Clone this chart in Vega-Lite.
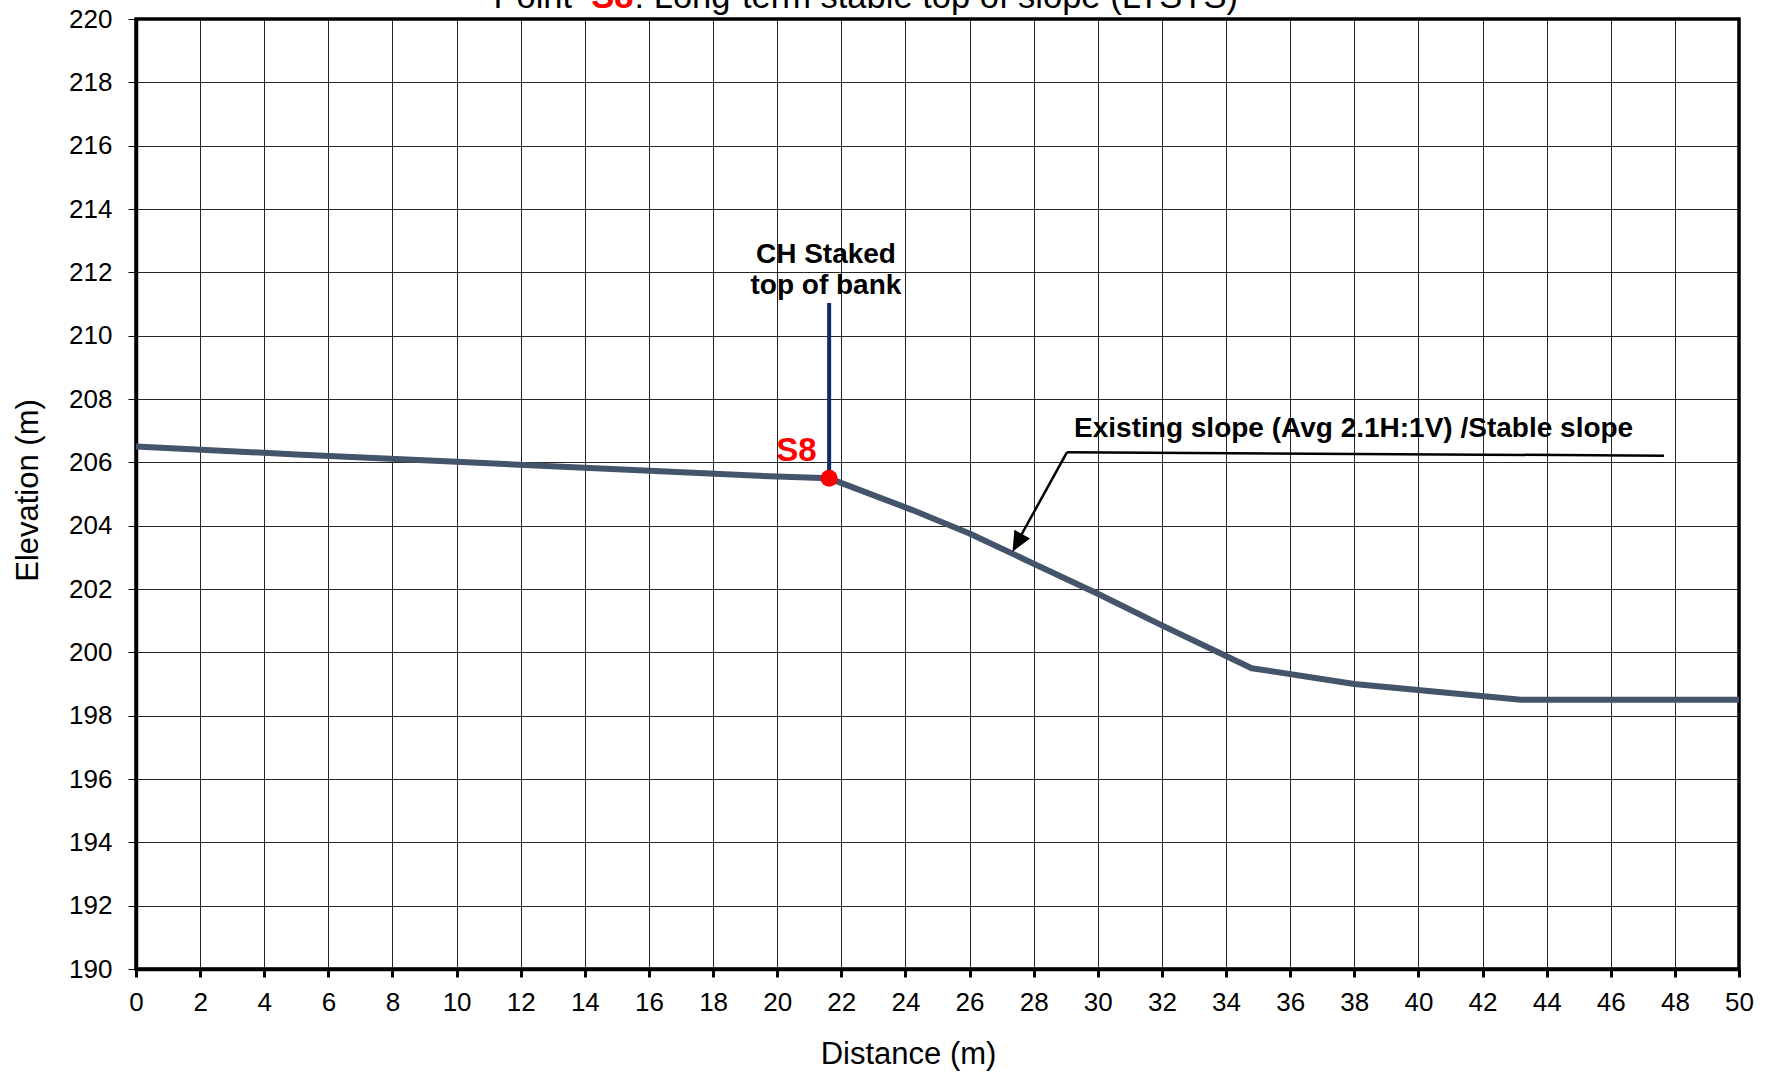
{
  "$schema": "https://vega.github.io/schema/vega-lite/v6.json",
  "width": 1603,
  "height": 950,
  "autosize": {"type": "none"},
  "padding": {"left": 136, "top": 19, "right": 34, "bottom": 108},
  "background": "white",
  "config": {
    "view": {"stroke": "black", "strokeWidth": 3.5},
    "font": "Liberation Sans",
    "axis": {
      "labelFont": "Liberation Sans",
      "titleFont": "Liberation Sans",
      "labelFontSize": 26,
      "titleFontSize": 31,
      "titleFontWeight": "normal",
      "labelColor": "black",
      "titleColor": "black",
      "domainColor": "black",
      "domainWidth": 3.5,
      "tickColor": "black",
      "tickSize": 8,
      "gridColor": "black",
      "gridWidth": 1,
      "gridOpacity": 0.85
    }
  },
  "datasets": {
    "profile": [
      {"distance": 0, "elevation": 206.5},
      {"distance": 5, "elevation": 206.25},
      {"distance": 10, "elevation": 206.02},
      {"distance": 15, "elevation": 205.78},
      {"distance": 20, "elevation": 205.55},
      {"distance": 21.6, "elevation": 205.5},
      {"distance": 24.2, "elevation": 204.5},
      {"distance": 26, "elevation": 203.75},
      {"distance": 28, "elevation": 202.8},
      {"distance": 30, "elevation": 201.85},
      {"distance": 32, "elevation": 200.85},
      {"distance": 34.8, "elevation": 199.5},
      {"distance": 38, "elevation": 199.0},
      {"distance": 43.2, "elevation": 198.5},
      {"distance": 50, "elevation": 198.5}
    ],
    "stake": [
      {"distance": 21.62, "elevation": 205.5},
      {"distance": 21.62, "elevation": 211.03}
    ],
    "point": [
      {"distance": 21.62, "elevation": 205.5}
    ],
    "leader": [
      {"distance": 29.04, "elevation": 206.32},
      {"distance": 47.66, "elevation": 206.21}
    ],
    "arrow": [
      {"distance": 29.04, "elevation": 206.32},
      {"distance": 27.5, "elevation": 203.5}
    ],
    "arrowhead": [
      {"distance": 27.34, "elevation": 203.18}
    ],
    "boldLabels": [
      {"distance": 21.52, "elevation": 212.28, "text": "CH Staked"},
      {"distance": 21.52, "elevation": 211.33, "text": "top of bank"},
      {"distance": 37.98, "elevation": 206.79, "text": "Existing slope (Avg 2.1H:1V) /Stable slope"}
    ],
    "s8": [
      {"distance": 20.6, "elevation": 206.04, "text": "S8"}
    ],
    "titleBlack": [
      {"distance": 11.15, "elevation": 220.35, "text": "Point"},
      {"distance": 15.55, "elevation": 220.35, "text": ": Long-term stable top of slope (LTSTS)"}
    ],
    "titleRed": [
      {"distance": 14.2, "elevation": 220.35, "text": "S8"}
    ]
  },
  "layer": [
    {
      "data": {"name": "profile"},
      "mark": {"type": "line", "color": "#44546a", "strokeWidth": 6, "strokeJoin": "round"},
      "encoding": {
        "x": {
          "field": "distance", "type": "quantitative",
          "scale": {"domain": [0, 50], "nice": false, "zero": false},
          "axis": {
            "values": [0,2,4,6,8,10,12,14,16,18,20,22,24,26,28,30,32,34,36,38,40,42,44,46,48,50],
            "title": "Distance (m)",
            "tickWidth": 3,
            "labelPadding": 12,
            "labelFlush": false,
            "titleX": 772,
            "titleY": 85,
            "titleBaseline": "middle",
            "titleAnchor": null,
            "titleAlign": "center"
          }
        },
        "y": {
          "field": "elevation", "type": "quantitative",
          "scale": {"domain": [190, 220], "nice": false, "zero": false},
          "axis": {
            "values": [190,192,194,196,198,200,202,204,206,208,210,212,214,216,218,220],
            "title": "Elevation (m)",
            "tickWidth": 1,
            "labelPadding": 16,
            "labelFlush": false,
            "titleX": -108,
            "titleY": 471,
            "titleAngle": -90,
            "titleBaseline": "middle",
            "titleAlign": "center",
            "titleAnchor": null
          }
        }
      }
    },
    {
      "data": {"name": "stake"},
      "mark": {"type": "line", "color": "#0d2a6b", "strokeWidth": 4},
      "encoding": {
        "x": {"field": "distance", "type": "quantitative"},
        "y": {"field": "elevation", "type": "quantitative"}
      }
    },
    {
      "data": {"name": "point"},
      "mark": {"type": "point", "shape": "circle", "filled": true, "color": "#ff0000", "size": 290, "opacity": 1},
      "encoding": {
        "x": {"field": "distance", "type": "quantitative"},
        "y": {"field": "elevation", "type": "quantitative"}
      }
    },
    {
      "data": {"name": "leader"},
      "mark": {"type": "line", "color": "black", "strokeWidth": 2.5},
      "encoding": {
        "x": {"field": "distance", "type": "quantitative"},
        "y": {"field": "elevation", "type": "quantitative"}
      }
    },
    {
      "data": {"name": "arrow"},
      "mark": {"type": "line", "color": "black", "strokeWidth": 2.5},
      "encoding": {
        "x": {"field": "distance", "type": "quantitative"},
        "y": {"field": "elevation", "type": "quantitative"}
      }
    },
    {
      "data": {"name": "arrowhead"},
      "mark": {"type": "point", "shape": "M0,0L-0.45,1L0.45,1Z", "filled": true, "color": "black", "size": 1600, "angle": 209, "opacity": 1},
      "encoding": {
        "x": {"field": "distance", "type": "quantitative"},
        "y": {"field": "elevation", "type": "quantitative"}
      }
    },
    {
      "data": {"name": "boldLabels"},
      "mark": {"type": "text", "font": "Liberation Sans", "fontWeight": "bold", "fontSize": 28, "color": "black", "align": "center", "baseline": "alphabetic"},
      "encoding": {
        "x": {"field": "distance", "type": "quantitative"},
        "y": {"field": "elevation", "type": "quantitative"},
        "text": {"field": "text"}
      }
    },
    {
      "data": {"name": "s8"},
      "mark": {"type": "text", "font": "Liberation Sans", "fontWeight": "bold", "fontSize": 33, "color": "#ff0000", "align": "center", "baseline": "alphabetic"},
      "encoding": {
        "x": {"field": "distance", "type": "quantitative"},
        "y": {"field": "elevation", "type": "quantitative"},
        "text": {"field": "text"}
      }
    },
    {
      "data": {"name": "titleBlack"},
      "mark": {"type": "text", "font": "Liberation Sans", "fontSize": 34.5, "color": "black", "align": "left", "baseline": "alphabetic"},
      "encoding": {
        "x": {"field": "distance", "type": "quantitative"},
        "y": {"field": "elevation", "type": "quantitative"},
        "text": {"field": "text"}
      }
    },
    {
      "data": {"name": "titleRed"},
      "mark": {"type": "text", "font": "Liberation Sans", "fontWeight": "bold", "fontSize": 34.5, "color": "#ff0000", "align": "left", "baseline": "alphabetic"},
      "encoding": {
        "x": {"field": "distance", "type": "quantitative"},
        "y": {"field": "elevation", "type": "quantitative"},
        "text": {"field": "text"}
      }
    }
  ]
}
